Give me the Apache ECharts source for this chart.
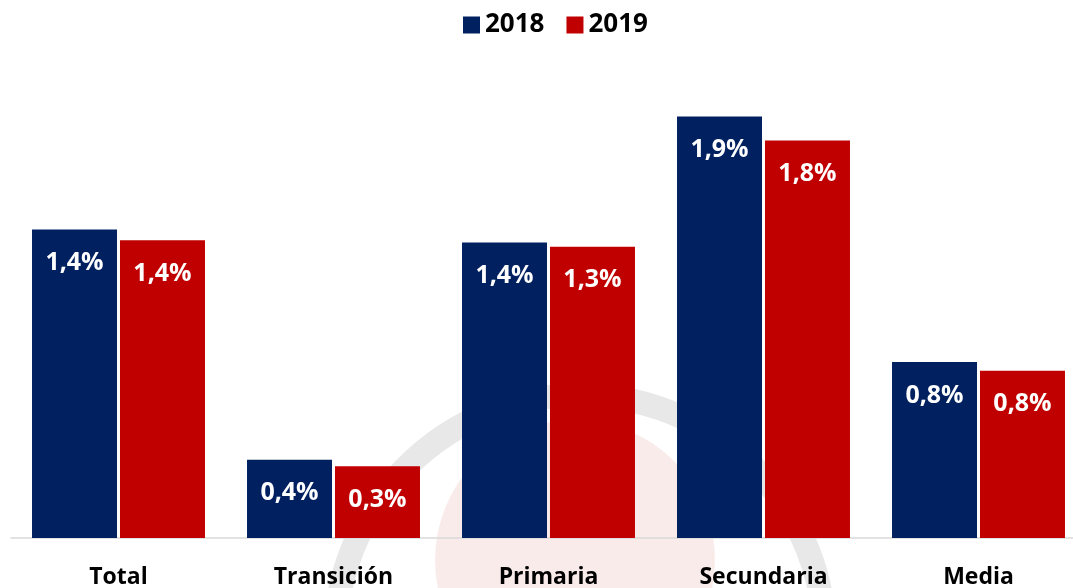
<!DOCTYPE html>
<html>
<head>
<meta charset="utf-8">
<script src="https://cdn.jsdelivr.net/npm/echarts@6/dist/echarts.min.js"></script>
<style>
  html, body { margin: 0; padding: 0; background: #fff; }
  #chart { width: 1073px; height: 588px; }
</style>
</head>
<body>
<div id="chart"></div>
<script>
var categories = ['Total', 'Transición', 'Primaria', 'Secundaria', 'Media'];
var values2018 = [1.42, 0.36, 1.36, 1.94, 0.81];
var values2019 = [1.37, 0.33, 1.34, 1.83, 0.77];
var seriesNames = ['2018', '2019'];

var chart = echarts.init(document.getElementById('chart'));

function pct(p) {
  return p.value.toFixed(1).replace('.', ',') + '%';
}

var labelStyle = {
  show: true,
  position: 'insideTop',
  distance: 21,
  color: '#fff',
  fontFamily: 'Open Sans',
  fontWeight: 'bold',
  fontSize: 25,
  formatter: pct
};

var option = {
  backgroundColor: '#fff',
  animation: false,
  color: ['#002060', '#C00000'],
  // faint logo watermark behind the bars
  graphic: [
    {
      type: 'circle', z: -10, silent: true,
      shape: { cx: 580, cy: 640, r: 245 },
      style: { fill: 'none', stroke: '#e8e8e8', lineWidth: 24 }
    },
    {
      type: 'circle', z: -10, silent: true,
      shape: { cx: 575, cy: 560, r: 140 },
      style: { fill: 'rgba(192,0,0,0.08)' }
    }
  ],
  legend: {
    top: 7,
    left: 458,
    itemWidth: 17,
    itemHeight: 17,
    itemGap: 22,
    icon: 'rect',
    textStyle: {
      fontFamily: 'Open Sans',
      fontWeight: 'bold',
      fontSize: 26,
      color: '#000'
    },
    data: seriesNames
  },
  grid: {
    left: 11,
    right: -13,
    top: 60,
    bottom: 50,
    containLabel: false,
    outerBoundsMode: 'none'
  },
  xAxis: {
    type: 'category',
    data: categories,
    axisLine: { lineStyle: { color: '#d9d9d9', width: 1.5 } },
    axisTick: { show: false },
    axisLabel: {
      margin: 28,
      color: '#000',
      fontFamily: 'Open Sans',
      fontWeight: 'bold',
      fontSize: 23
    }
  },
  yAxis: {
    type: 'value',
    min: 0,
    max: 2.2,
    show: false,
    splitLine: { show: false }
  },
  series: [
    {
      name: seriesNames[0],
      type: 'bar',
      data: values2018,
      barWidth: 85,
      barGap: '3.5%',
      label: labelStyle
    },
    {
      name: seriesNames[1],
      type: 'bar',
      data: values2019,
      barWidth: 85,
      barGap: '3.5%',
      label: labelStyle
    }
  ]
};

chart.setOption(option);
window.addEventListener('resize', function () {
  chart.resize();
});
</script>
</body>
</html>
